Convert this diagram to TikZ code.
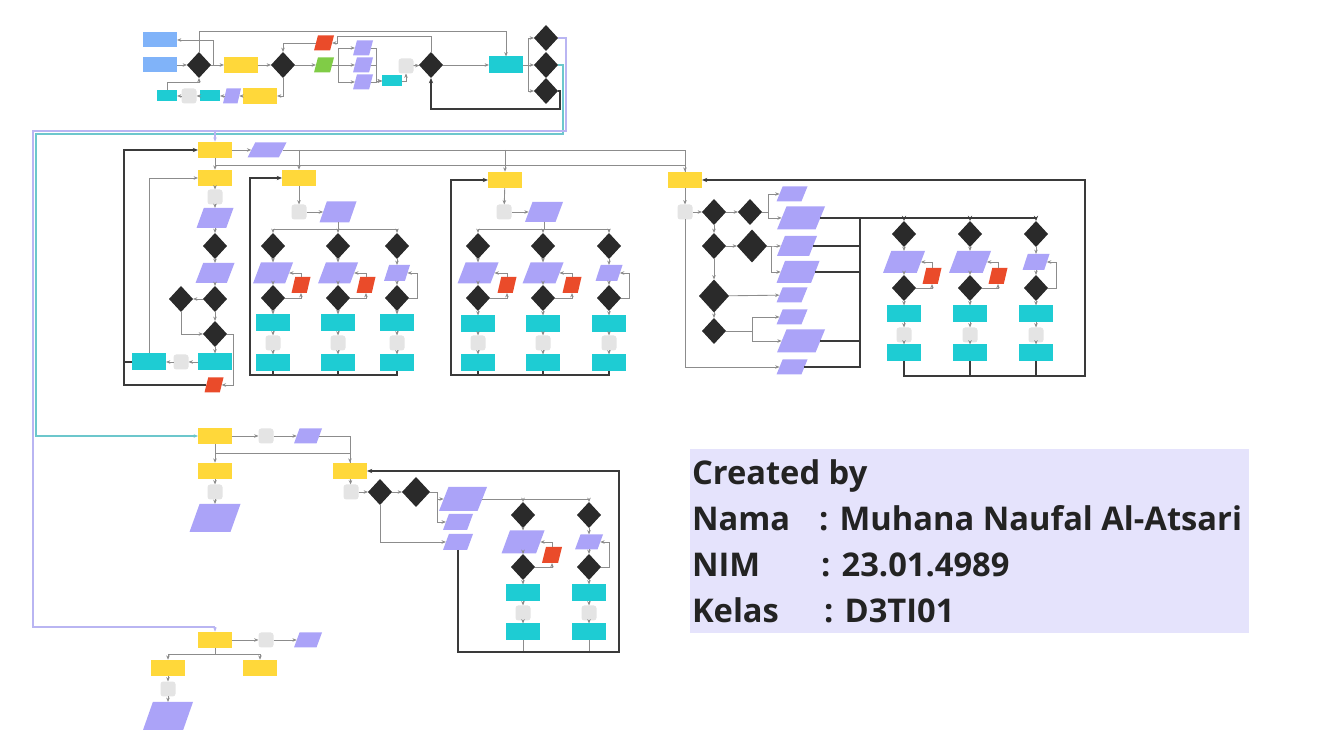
\documentclass[tikz,border=0pt]{standalone}
\usepackage{fontspec}
\newfontfamily\creditfont{Open Sans}
\usetikzlibrary{arrows.meta, shapes.geometric, calc}

\definecolor{termblue}{HTML}{80B3F9}
\definecolor{pageyellow}{HTML}{FFD83A}
\definecolor{proccyan}{HTML}{1ECCD3}
\definecolor{iopurple}{HTML}{ABA3F8}
\definecolor{errred}{HTML}{EA4B2A}
\definecolor{okgreen}{HTML}{80CC46}
\definecolor{decdark}{HTML}{2A2A2A}
\definecolor{dbgray}{HTML}{E4E4E4}
\definecolor{linegray}{HTML}{8C8C8C}
\definecolor{framedark}{HTML}{3A3A3A}
\definecolor{lineteal}{HTML}{6CC7CC}
\definecolor{linelav}{HTML}{B9B5F2}
\definecolor{boxlav}{HTML}{E5E3FC}
\definecolor{credittext}{HTML}{232323}

\begin{document}
\begin{tikzpicture}[x=0.02cm, y=-0.02cm,
  every node/.style={inner sep=0pt, outer sep=0pt},
  term/.style={fill=termblue, minimum width=0.68cm, minimum height=0.3cm},
  page/.style={fill=pageyellow, minimum width=0.68cm, minimum height=0.33cm},
  proc/.style={fill=proccyan, minimum width=0.68cm, minimum height=0.34cm},
  procs/.style={fill=proccyan, minimum width=0.4cm, minimum height=0.22cm},
  db/.style={fill=dbgray, rounded corners=1.5pt, minimum width=0.3cm, minimum height=0.3cm},
  dec/.style={diamond, fill=decdark, minimum width=0.48cm, minimum height=0.52cm},
  decl/.style={dec, minimum width=0.6cm, minimum height=0.66cm},
  io/.style 2 args={trapezium, trapezium left angle=72, trapezium right angle=108,
    trapezium stretches=true, inner sep=1pt, fill=iopurple,
    minimum width=#1*0.02cm, minimum height=#2*0.02cm},
  err/.style 2 args={io={#1}{#2}, fill=errred},
  ok/.style 2 args={io={#1}{#2}, fill=okgreen},
  link/.style={draw=linegray, line width=0.5pt},
  arr/.style={link, -{Stealth[length=2.5pt, width=2pt]}},
  frame/.style={draw=framedark, line width=0.8pt},
  framearr/.style={frame, -{Stealth[length=3pt, width=2.4pt]}},
  credit/.style={font=\creditfont\bfseries\fontsize{18.6}{23}\selectfont, text=credittext}
]
\useasboundingbox (0,0) rectangle (1333,749);

% login
\node[term] (blue1) at (160,40) {};
\node[term] (blue2) at (160,65) {};
\node[dec] (dA1) at (199,65) {};
\node[page] (login) at (241,65) {};
\node[dec] (dA2) at (283,65) {};
\node[err={20}{15}] (errA1) at (324,43) {};
\node[ok={20}{15}] (okA) at (324,65) {};
\node[io={20}{15}] (inA1) at (363,48) {};
\node[io={20}{15}] (inA2) at (363,65) {};
\node[io={20}{15}] (inA3) at (363,82) {};
\node[procs] (prA1) at (392,81) {};
\node[db] (dbA) at (406,66) {};
\node[dec] (dA3) at (431,65) {};
\node[proc] (prA2) at (506,65) {};
\node[dec] (dA4) at (546,38) {};
\node[dec] (dA5) at (546,65) {};
\node[dec] (dA6) at (546,91) {};
\node[procs] (prA3) at (167,96) {};
\node[db] (dbA2) at (189,96) {};
\node[procs] (prA4) at (210,96) {};
\node[io={18}{15}] (inA4) at (232,96) {};
\node[page] (regA) at (260,96) {};

\draw[arr] (blue2) -- (dA1);
\draw[arr] (dA1) -- (login);
\draw[arr] (dA1.east) -- ++(2,0) |- (blue1.east);
\draw[arr] (dA1.north) -- ++(0,-21) -| (prA2.north);
\draw[arr] (prA3.north) -- ++(0,-8) -| (dA1.south);
\draw[arr] (regA) -- (inA4);
\draw[arr] (inA4) -- (prA4);
\draw[arr] (prA4) -- (dbA2);
\draw[arr] (dbA2) -- (prA3);
\draw[arr] (login) -- (dA2);
\draw[arr] (dA2.south) |- (regA.east);
\draw[arr] (errA1.west) -| (dA2.north);
\draw[arr] (dA2) -- (okA);
\draw[arr] (okA.east) -- ++(6,0) |- (inA1.west);
\draw[arr] (okA) -- (inA2);
\draw[arr] (okA.east) -- ++(6,0) |- (inA3.west);
\draw[arr] (inA1.east) -- ++(5,0) |- (prA1.west);
\draw[arr] (inA2.east) -- ++(5,0) |- (prA1.west);
\draw[arr] (inA3.east) -- ++(5,0) |- (prA1.west);
\draw[arr] (prA1.east) -| (dbA.south);
\draw[arr] (dbA) -- (dA3);
\draw[arr] (dA3.north) -- ++(0,-16) -| ($(errA1.east)+(5,0)$) -- (errA1.east);
\draw[arr] (dA3) -- (prA2);
\draw[arr] (prA2.east) -- ++(5,0) |- (dA4.west);
\draw[arr] (prA2) -- (dA5);
\draw[arr] (prA2.east) -- ++(5,0) |- (dA6.west);
\coordinate (rD) at (560,109);
\draw[framearr] (dA6.east) -| (rD) -| (dA3.south);

% dashboard links
\coordinate (rP) at (566,131);
\coordinate (lP) at (33,131);
\coordinate (jY1) at (215,131);
\coordinate (jY9) at (215,627);
\coordinate (rT) at (563,134);
\coordinate (lT) at (36,134);

% dashboard 1
\node[page] (Y1) at (215,150) {};
\node[io={39}{15}] (inB) at (267,150) {};
\node[page] (Y2) at (215,178) {};
\node[page] (Y3) at (299,178) {};
\node[page] (Y4) at (505,180) {};
\node[page] (Y5) at (685,180) {};

\draw[arr] (Y1) -- (inB);
\draw[arr] (inB.east) -| (Y5.north);
\draw[arr] (inB.east -| Y3.north) -- (Y3.north);
\draw[arr] (inB.east -| Y4.north) -- (Y4.north);
\draw[link] (Y1.south) ++(0,7) -| (Y5.north);
\draw[arr] (Y1) -- (Y2);

% profil
\node[db] (dbB1) at (215,197) {};
\node[io={37}{20}] (inB1) at (215,218) {};
\node[dec] (dB1) at (215,246) {};
\node[io={39}{20}] (inB2) at (215,273) {};
\node[dec] (dB2) at (215,299) {};
\node[dec] (dB3) at (181,299) {};
\node[dec] (dB4) at (215,334) {};
\node[proc] (prB1) at (215,362) {};
\node[db] (dbB2) at (181,362) {};
\node[proc] (prB2) at (149,362) {};
\node[err={19}{15}] (errB) at (214,385) {};
\coordinate (lB) at (124,385);

\draw[arr] (Y2) -- (dbB1);
\draw[arr] (dbB1) -- (inB1);
\draw[arr] (inB1) -- (dB1);
\draw[arr] (dB1) -- (inB2);
\draw[arr] (inB2) -- (dB2);
\draw[arr] (dB2) -- (dB3);
\draw[arr] (dB2) -- (dB4);
\draw[arr] (dB3.south) |- (dB4.west);
\draw[arr] (dB4) -- (prB1);
\draw[arr] (prB1) -- (dbB2);
\draw[arr] (dbB2) -- (prB2);
\draw[arr] (dB4.east) -- ++(6,0) |- (errB.east);
\draw[arr] (prB2.north) |- (Y2.west);
\draw[framearr] (errB.west) -- (lB) |- (Y1.west);
\draw[frame] (prB2.west) -- (prB2.west -| lB);

% data group 1
\node[db] (dbB3) at (299,212) {};
\node[io={37}{21}] (inB3) at (338,212) {};
\coordinate (cornerB) at (250,375);
\draw[arr] (Y3) -- (dbB3);
\draw[arr] (dbB3) -- (inB3);
\foreach \cx/\w/\h [count=\i] in {273/40/21, 338/40/21, 397/26/16} {
  \node[dec] (bT\i) at (\cx,246) {};
  \node[io={\w}{\h}] (bI\i) at (\cx,273) {};
  \node[dec] (bD\i) at (\cx,298) {};
  \node[proc] (bP\i) at (\cx,323) {};
  \node[db] (bB\i) at (\cx,343) {};
  \node[proc] (bE\i) at (\cx,363) {};
  \draw[arr] (inB3.south) -- ++(0,7) -| (bT\i.north);
  \draw[arr] (bT\i) -- (bI\i);
  \draw[arr] (bI\i) -- (bD\i);
  \draw[arr] (bD\i) -- (bP\i);
  \draw[arr] (bP\i) -- (bB\i);
  \draw[arr] (bB\i) -- (bE\i);
  \draw[frame] (bE\i.south) -- (bE\i.south |- cornerB);
}
\foreach \i in {1,2} {
  \node[err={19}{16}] (bR\i) at ($(bI\i)+(28,12)$) {};
  \draw[arr] (bD\i.east) -| (bR\i.south);
  \draw[arr] (bR\i.north) |- (bI\i.east);
}
\draw[arr] (bD3.east) -- ++(8,0) |- (bI3.east);
\draw[framearr] (bE3.south) |- (cornerB) |- (Y3.west);

% data group 2
\node[db] (dbB4) at (504,212) {};
\node[io={38}{20}] (inB4) at (544,212) {};
\coordinate (cornerG) at (451,375);
\draw[arr] (Y4) -- (dbB4);
\draw[arr] (dbB4) -- (inB4);
\foreach \cx/\w/\h [count=\i] in {478/41/21, 543/41/21, 609/27/16} {
  \node[dec] (gT\i) at (\cx,246) {};
  \node[io={\w}{\h}] (gI\i) at (\cx,273) {};
  \node[dec] (gD\i) at (\cx,298) {};
  \node[proc] (gP\i) at (\cx,324) {};
  \node[db] (gB\i) at (\cx,343) {};
  \node[proc] (gE\i) at (\cx,363) {};
  \draw[arr] (inB4.south) -- ++(0,7) -| (gT\i.north);
  \draw[arr] (gT\i) -- (gI\i);
  \draw[arr] (gI\i) -- (gD\i);
  \draw[arr] (gD\i) -- (gP\i);
  \draw[arr] (gP\i) -- (gB\i);
  \draw[arr] (gB\i) -- (gE\i);
  \draw[frame] (gE\i.south) -- (gE\i.south |- cornerG);
}
\foreach \i in {1,2} {
  \node[err={19}{16}] (gR\i) at ($(gI\i)+(29,12)$) {};
  \draw[arr] (gD\i.east) -| (gR\i.south);
  \draw[arr] (gR\i.north) |- (gI\i.east);
}
\draw[arr] (gD3.east) -- ++(8,0) |- (gI3.east);
\draw[framearr] (gE3.south) |- (cornerG) |- (Y4.west);

% transaksi
\node[db] (db5) at (685,212) {};
\node[dec] (dC1) at (714,212) {};
\node[dec] (dC2) at (750,212) {};
\node[dec] (dC3) at (714,246) {};
\node[decl] (dC4) at (752,246) {};
\node[decl] (dC5) at (714,296) {};
\node[dec] (dC6) at (714,331) {};
\node[io={31}{15}] (i1) at (792,194) {};
\node[io={48}{23}] (i2) at (801,218) {};
\node[io={40}{20}] (i3) at (797,246) {};
\node[io={43}{22}] (i4) at (798,272) {};
\node[io={31}{15}] (i5) at (792,295) {};
\node[io={31}{15}] (i6) at (792,317) {};
\node[io={48}{23}] (i7) at (801,341) {};
\node[io={31}{15}] (i8) at (792,367) {};
\coordinate (busC) at (860,218);
\coordinate (cornerC) at (1085,376);

\draw[arr] (Y5) -- (db5);
\draw[arr] (db5) -- (dC1);
\draw[arr] (dC1) -- (dC2);
\draw[arr] (dC1) -- (dC3);
\draw[arr] (dC3) -- (dC4);
\draw[arr] (dC3) -- (dC5);
\draw[arr] (dC5) -- (dC6);
\draw[arr] (dC2.east) -- ++(6,0) |- (i1.west);
\draw[arr] (dC2.east) -- ++(6,0) |- (i2.west);
\draw[arr] (dC4.east) -- ++(4,0) |- (i3.west);
\draw[arr] (dC4.east) -- ++(4,0) |- (i4.west);
\draw[arr] (dC5) -- (i5);
\draw[arr] (dC6.east) -- ++(26,0) |- (i6.west);
\draw[arr] (dC6.east) -- ++(26,0) |- (i7.west);
\draw[arr] (db5.south) |- (i8.west);
\foreach \n in {i2,i3,i4,i7,i8}
  \draw[frame] (\n.east) -| (busC);

\foreach \cx/\w/\h [count=\i] in {904/42/22, 970/42/22, 1036/27/16} {
  \node[dec] (cT\i) at (\cx,234) {};
  \node[io={\w}{\h}] (cI\i) at (\cx,262) {};
  \node[dec] (cD\i) at (\cx,288) {};
  \node[proc] (cP\i) at (\cx,314) {};
  \node[db] (cB\i) at (\cx,335) {};
  \node[proc] (cE\i) at (\cx,353) {};
  \draw[framearr] (busC) -| (cT\i.north);
  \draw[arr] (cT\i) -- (cI\i);
  \draw[arr] (cI\i) -- (cD\i);
  \draw[arr] (cD\i) -- (cP\i);
  \draw[arr] (cP\i) -- (cB\i);
  \draw[arr] (cB\i) -- (cE\i);
  \draw[frame] (cE\i.south) -- (cE\i.south |- cornerC);
}
\foreach \i in {1,2} {
  \node[err={19}{16}] (cR\i) at ($(cI\i)+(28,14)$) {};
  \draw[arr] (cD\i.east) -| (cR\i.south);
  \draw[arr] (cR\i.north) |- (cI\i.east);
}
\draw[arr] (cD3.east) -- ++(8,0) |- (cI3.east);
\draw[framearr] (cE1.south) |- (cornerC) |- (Y5.east);

% dashboard 2
\node[page] (Y6) at (215,436) {};
\node[db] (dbC1) at (266,436) {};
\node[io={28}{15}] (inC1) at (308,436) {};
\node[page] (Y7) at (215,471) {};
\node[db] (dbC2) at (215,492) {};
\node[io={51}{28}] (inC2) at (215,518) {};
\node[page] (Y8) at (350,471) {};
\node[db] (dbC3) at (351,492) {};
\node[dec] (dD1) at (380,492) {};
\node[decl, minimum width=0.56cm, minimum height=0.6cm] (dD2) at (416,492) {};
\node[io={48}{24}] (inC3) at (463,499) {};
\node[io={30}{16}] (inC4) at (458,522) {};
\node[io={30}{16}] (inC5) at (458,542) {};
\coordinate (cornerD) at (619,652);

\draw[arr, draw=lineteal, line width=0.7pt] (dA5.east) -| (rT) -- (lT) |- (Y6.west);
\draw[arr] (Y6) -- (dbC1);
\draw[arr] (dbC1) -- (inC1);
\draw[arr] (inC1.east) -| (Y8.north);
\draw[link] (Y6.south) ++(0,9) -| (Y8.north);
\draw[arr] (Y6) -- (Y7);
\draw[arr] (Y7) -- (dbC2);
\draw[arr] (dbC2) -- (inC2);
\draw[arr] (Y8) -- (dbC3);
\draw[arr] (dbC3) -- (dD1);
\draw[arr] (dD1) -- (dD2);
\draw[arr] (dD2.east) -- ++(7,0) |- (inC3.west);
\draw[arr] (dD2.east) -- ++(7,0) |- (inC4.west);
\draw[arr] (dD1.south) |- (inC5.west);

\foreach \cx/\w/\h [count=\i] in {523/43/23, 589/28/15} {
  \node[dec] (eT\i) at (\cx,515) {};
  \node[io={\w}{\h}] (eI\i) at (\cx,542) {};
  \node[dec] (eD\i) at (\cx,567) {};
  \node[proc] (eP\i) at (\cx,593) {};
  \node[db] (eB\i) at (\cx,613) {};
  \node[proc] (eE\i) at (\cx,632) {};
  \draw[arr] (inC3.east) -| (eT\i.north);
  \draw[arr] (eT\i) -- (eI\i);
  \draw[arr] (eI\i) -- (eD\i);
  \draw[arr] (eD\i) -- (eP\i);
  \draw[arr] (eP\i) -- (eB\i);
  \draw[arr] (eB\i) -- (eE\i);
  \draw[link] (eE\i.south) -- (eE\i.south |- cornerD);
}
\node[err={20}{16}] (eR1) at (552,555) {};
\draw[arr] (eD1.east) -| (eR1.south);
\draw[arr] (eR1.north) |- (eI1.east);
\draw[arr] (eD2.east) -- ++(8,0) |- (eI2.east);
\draw[framearr] (inC5.south) |- (cornerD) |- (Y8.east);

% dashboard 3
\node[page] (Y9) at (215,640) {};
\node[db] (dbD1) at (266,640) {};
\node[io={28}{15}] (inD1) at (308,640) {};
\node[page] (Y10) at (168,668) {};
\node[page] (Y11) at (260,668) {};
\node[db] (dbD2) at (168,689) {};
\node[io={50}{28}] (inD2) at (168,716) {};

\draw[link, draw=linelav, line width=0.7pt] (dA4.east) -| (rP) -- (lP) |- (jY9);
\draw[arr, draw=linelav, line width=0.7pt] (jY9) -- (Y9.north);
\draw[arr, draw=linelav, line width=0.7pt] (jY1) -- (Y1.north);
\draw[arr] (Y9) -- (dbD1);
\draw[arr] (dbD1) -- (inD1);
\draw[arr] (Y9.south) -- ++(0,6) -| (Y10.north);
\draw[arr] (Y9.south) -- ++(0,6) -| (Y11.north);
\draw[arr] (Y10) -- (dbD2);
\draw[arr] (dbD2) -- (inD2);

% credit
\node[fill=boxlav, anchor=north west, minimum width=11.18cm, minimum height=3.68cm] (creditBox) at (690,449) {};
\node[credit, anchor=base west] (crTitle) at (692,485) {Created by};
\node[credit, anchor=base west] (crNama) at (692,531) {Nama};
\node[credit, anchor=base west] (crNamaV) at (819,531) {: Muhana Naufal Al-Atsari};
\node[credit, anchor=base west] (crNim) at (692,577) {NIM};
\node[credit, anchor=base west] (crNimV) at (821,577) {: 23.01.4989};
\node[credit, anchor=base west] (crKelas) at (692,623) {Kelas};
\node[credit, anchor=base west] (crKelasV) at (824,623) {: D3TI01};

\end{tikzpicture}
\end{document}
